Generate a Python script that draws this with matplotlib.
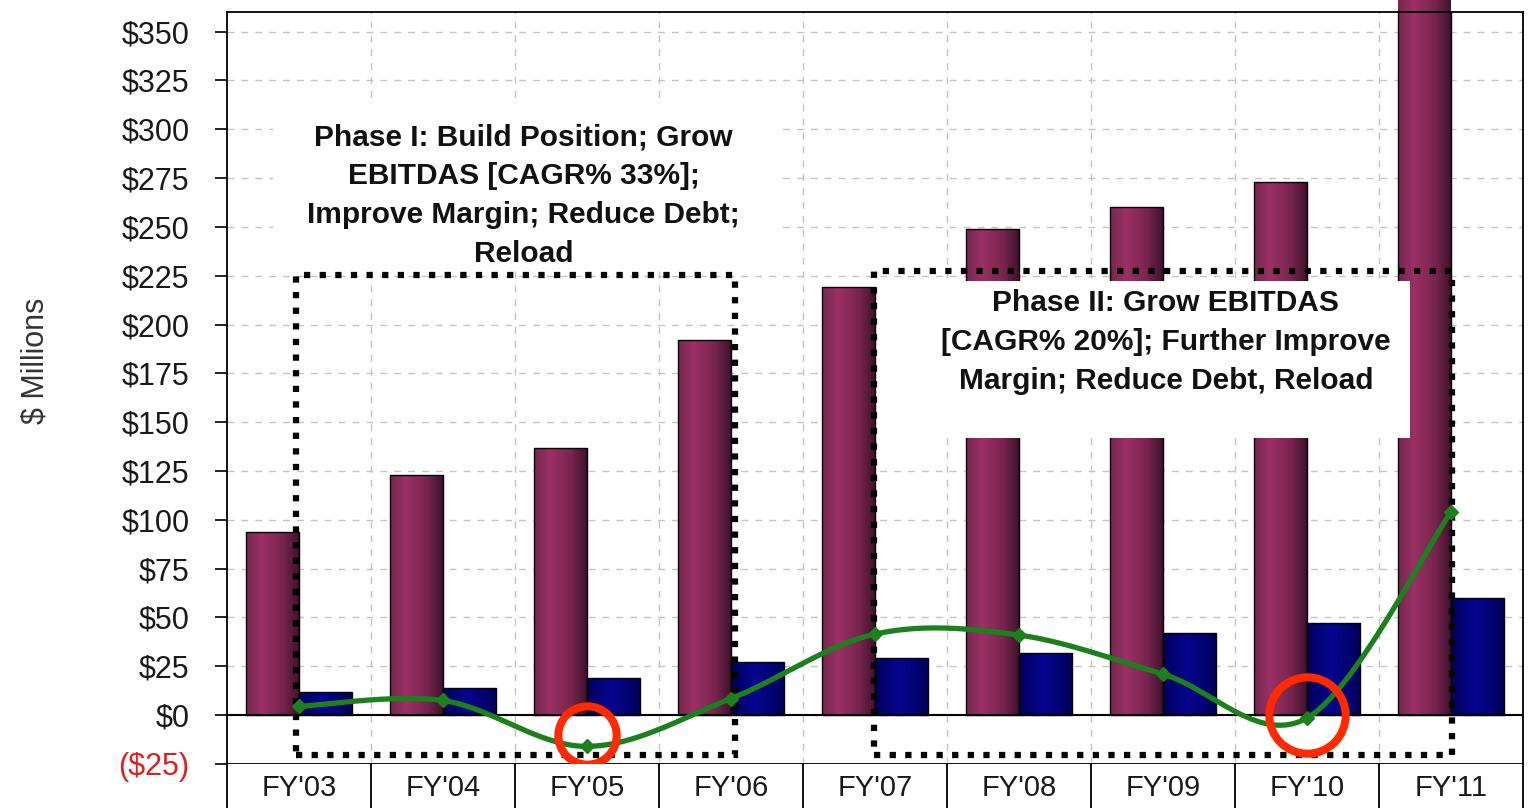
import numpy as np
import matplotlib
matplotlib.use("Agg")
import matplotlib.pyplot as plt
from matplotlib.patches import Rectangle
from matplotlib.colors import LinearSegmentedColormap

plt.rcParams['font.family'] = ['Liberation Sans', 'DejaVu Sans']

years = ["FY'03", "FY'04", "FY'05", "FY'06", "FY'07", "FY'08", "FY'09", "FY'10", "FY'11"]
revenue = [94, 123, 137, 192, 219, 249, 260, 273, 372]
ebitdas = [12, 14, 19, 27, 29, 32, 42, 47, 60]
net = [4.5, 7.5, -16, 8.5, 41.5, 41, 21, -1.5, 104]
ticks = list(range(-25, 351, 25))
circled = [2, 7]
circle_y = [-10, 0]

phase1 = "Phase I: Build Position; Grow\nEBITDAS [CAGR% 33%];\nImprove Margin; Reduce Debt;\nReload"
phase2 = "Phase II: Grow EBITDAS\n[CAGR% 20%]; Further Improve\nMargin; Reduce Debt, Reload"

fig = plt.figure(figsize=(15.28, 8.08), dpi=100)
ax = fig.add_axes([0.1486, 0.0545, 0.8481, 0.9306])
tab = fig.add_axes([0.1486, 0.0, 0.8481, 0.0545])

x = np.arange(len(years))
w = 0.368

maroon = LinearSegmentedColormap.from_list('maroon', [(0, '#762650'), (0.3, '#9b3164'),
                                                      (0.7, '#782550'), (1, '#40112b')])
navy = LinearSegmentedColormap.from_list('navy', [(0, '#000058'), (0.45, '#050590'), (1, '#00005a')])
grad = np.linspace(0, 1, 256).reshape(1, -1)


def gradient_bars(bars, cmap):
    for b in bars:
        x0, y0 = b.get_x(), b.get_y()
        im = ax.imshow(grad, cmap=cmap, aspect='auto', zorder=2,
                       extent=[x0, x0 + b.get_width(), y0, y0 + b.get_height()])
        im.set_clip_path(b)


b1 = ax.bar(x - w / 2, revenue, w, facecolor='none', edgecolor='black', lw=1, zorder=3)
b2 = ax.bar(x + w / 2, ebitdas, w, facecolor='none', edgecolor='black', lw=1, zorder=3)
gradient_bars(b1, maroon)
gradient_bars(b2, navy)


# smooth line like excel (bezier through points)
def smooth(xs, ys, n=40):
    p = np.column_stack([xs, ys]).astype(float)
    pts = []
    for i in range(len(p) - 1):
        p0 = p[i - 1] if i > 0 else p[i]
        p3 = p[i + 2] if i + 2 < len(p) else p[i + 1]
        c1 = p[i] + (p[i + 1] - p0) / 6
        c2 = p[i + 1] - (p3 - p[i]) / 6
        t = np.linspace(0, 1, n)[:, None]
        seg = ((1 - t) ** 3) * p[i] + 3 * ((1 - t) ** 2) * t * c1 + 3 * (1 - t) * t ** 2 * c2 + t ** 3 * p[i + 1]
        pts.append(seg)
    pts = np.vstack(pts)
    return pts[:, 0], pts[:, 1]


sx, sy = smooth(x, net)
ax.plot(sx, sy, color='#1c801c', lw=3.8, zorder=8, solid_capstyle='round')
ax.plot(x, net, 'D', color='#1c801c', ms=7, zorder=8)

# white label boxes
ax.add_patch(Rectangle((-0.18, 228), 3.51, 87, facecolor='white', edgecolor='none', zorder=4))
ax.add_patch(Rectangle((4.02, 142), 3.695, 80.5, facecolor='white', edgecolor='none', zorder=4))

# dotted phase boxes
dots = (0, (1, 1.5))
ax.add_patch(Rectangle((-0.02, -20.5), 3.05, 245.7, fill=False, edgecolor='black', lw=4.5,
                       linestyle=dots, zorder=5))
ax.add_patch(Rectangle((3.99, -20.5), 4.02, 247.7, fill=False, edgecolor='black', lw=4.5,
                       linestyle=dots, zorder=5))

ax.text(1.56, 266, phase1, ha='center', va='center', fontsize=21.5, fontweight='bold',
        linespacing=1.5, color='#111111', zorder=6)
ax.text(6.02, 191, phase2, ha='center', va='center', fontsize=21.5, fontweight='bold',
        linespacing=1.5, color='#111111', zorder=6)

# red circles
ax.plot(x[circled[0]], circle_y[0], 'o', ms=42, mfc='none', mec='#ff2a00', mew=5.8, zorder=9)
ax.plot(x[circled[1]], circle_y[1], 'o', ms=55, mfc='none', mec='#ff2a00', mew=5.8, zorder=9)

ax.axhline(0, color='black', lw=1.5, zorder=3)

ax.set_xlim(-0.5, len(years) - 0.5)
ax.set_ylim(-25, 360)
ax.set_yticks(ticks)
labels = ['($%d)' % -t if t < 0 else '$%d' % t for t in ticks]
ax.set_yticklabels(labels, fontsize=22, color='#1a1a1a')
ax.get_yticklabels()[0].set_color('#e02020')
ax.tick_params(axis='y', direction='out', length=9, width=1.2, color='black', pad=18)
ax.set_xticks(np.arange(0.5, len(years) - 0.5, 1))
ax.set_xticklabels([])
ax.tick_params(axis='x', length=0)
ax.grid(True, color='#c4c4c4', linestyle=(0, (5, 5)), lw=1, zorder=0)
ax.set_axisbelow(True)
for s in ax.spines.values():
    s.set_color('black')
    s.set_linewidth(1.3)

# category "table" under the plot
tab.set_xlim(-0.5, len(years) - 0.5)
tab.set_ylim(0, 1)
for b in np.arange(0.5, len(years) - 0.5, 1):
    tab.axvline(b, color='black', lw=1.3)
for i, yr in enumerate(years):
    tab.text(i, 0.45, yr, ha='center', va='center', fontsize=21, color='#1a1a1a')
tab.set_xticks([])
tab.set_yticks([])
tab.spines['bottom'].set_visible(False)
tab.spines['top'].set_visible(False)
for s in ['left', 'right']:
    tab.spines[s].set_linewidth(1.3)

fig.text(0.023, 0.553, '$ Millions', rotation=90, ha='center', va='center', fontsize=22, color='#333333')

fig.savefig('out.png', dpi=100)
